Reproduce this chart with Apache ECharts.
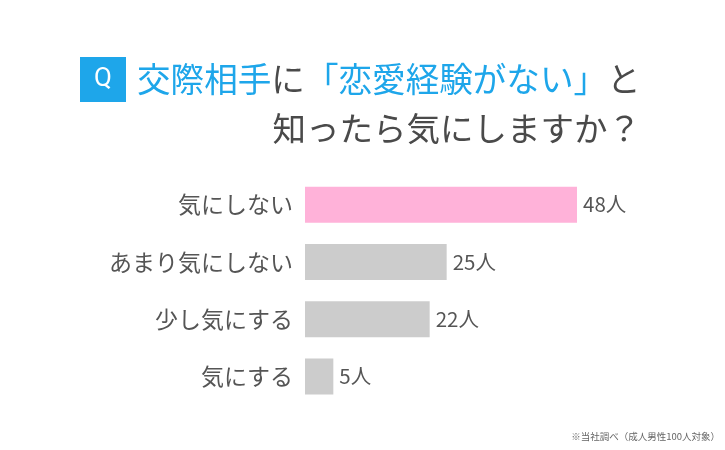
<!DOCTYPE html>
<html>
<head>
<meta charset="utf-8">
<script src="https://cdn.jsdelivr.net/npm/echarts@6/dist/echarts.min.js"></script>
<style>
html,body{margin:0;padding:0;background:#fff;}
#main{width:725px;height:450px;}
</style>
</head>
<body>
<div id="main"></div>
<script>
const categories = ['気にしない', 'あまり気にしない', '少し気にする', '気にする'];
const values = [48, 25, 22, 5];
const unit = '人';
const titleLine1 = ['交際相手', 'に', '「恋愛経験がない」', 'と'];
const titleLine2 = '知ったら気にしますか？';
const note = '※当社調べ（成人男性100人対象）';

const FONT = '"Noto Sans CJK JP", "Noto Sans", sans-serif';
const BLUE = '#1ea6ea';
const DARK = '#4a4a4a';

const chart = echarts.init(document.getElementById('main'));
chart.setOption({
  backgroundColor: '#fff',
  textStyle: { fontFamily: FONT },
  title: [
    {
      text: '{q|Q}', left: 80, top: 57, padding: 0,
      textStyle: {
        rich: {
          q: { width: 46, height: 45, lineHeight: 45, align: 'center', backgroundColor: BLUE,
               color: '#fff', fontSize: 26, fontWeight: 'normal', fontFamily: 'Roboto, "Noto Sans", sans-serif' }
        }
      }
    },
    {
      text: '{b|' + titleLine1[0] + '}{d|' + titleLine1[1] + '}{b|' + titleLine1[2] + '}{d|' + titleLine1[3] + '}',
      left: 137, top: 59, padding: 0,
      textStyle: {
        fontWeight: 'normal',
        rich: {
          b: { color: BLUE, fontSize: 33.6, fontWeight: 'normal', fontFamily: FONT, lineHeight: 40 },
          d: { color: DARK, fontSize: 33.6, fontWeight: 'normal', fontFamily: FONT, lineHeight: 40 }
        }
      }
    },
    {
      text: titleLine2, right: 84, top: 108, padding: 0,
      textStyle: { color: DARK, fontSize: 33.5, fontFamily: FONT, fontWeight: 'normal', lineHeight: 40 }
    },
    {
      text: note, right: 5, top: 432, padding: 0,
      textStyle: { color: '#666', fontSize: 9.5, fontFamily: FONT, fontWeight: 'normal' }
    }
  ],
  grid: { left: 305, top: 176, width: 340, height: 229, containLabel: false },
  xAxis: { type: 'value', min: 0, max: 60, show: false },
  yAxis: {
    type: 'category', data: categories, inverse: true,
    axisLine: { show: false }, axisTick: { show: false },
    axisLabel: { color: '#555', fontSize: 23, margin: 12, fontFamily: FONT }
  },
  series: [{
    type: 'bar', barWidth: 36,
    data: values.map((v, i) => ({ value: v, itemStyle: { color: i === 0 ? '#ffb2d9' : '#cccccc' } })),
    label: {
      show: true, position: 'right', distance: 6,
      formatter: '{c}' + unit, color: '#555', fontSize: 20.5, fontFamily: FONT
    },
    animation: false
  }],
  animation: false
});
</script>
</body>
</html>
